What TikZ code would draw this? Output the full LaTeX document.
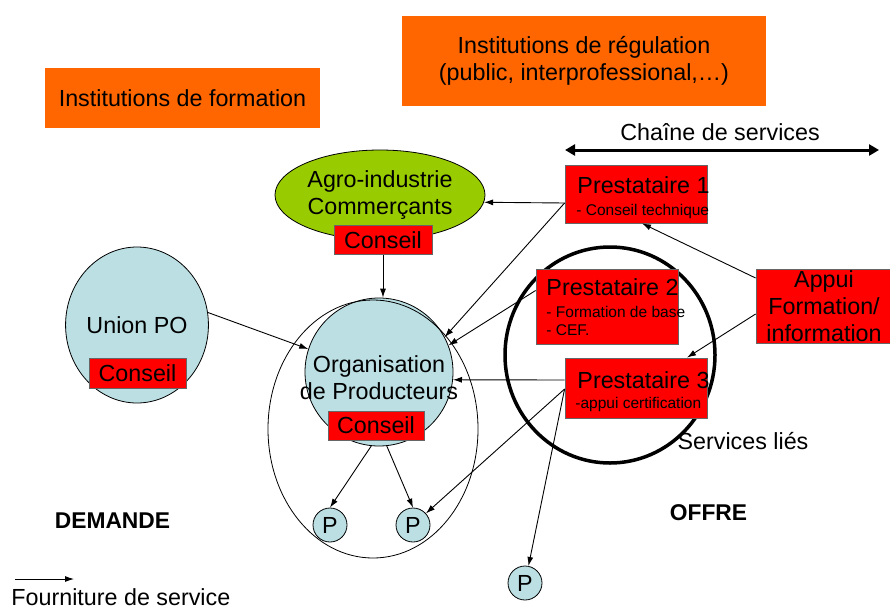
\documentclass[tikz,border=0pt]{standalone}
\usepackage{fontspec}
\setmainfont{Liberation Sans}
\usetikzlibrary{shapes.geometric,arrows.meta}
\definecolor{instorange}{RGB}{255,102,0}
\definecolor{prestred}{RGB}{255,0,0}
\definecolor{agrogreen}{RGB}{153,204,0}
\definecolor{oplight}{RGB}{187,223,227}
\tikzset{font=\fontsize{23.3}{27}\selectfont}
\newcommand{\detailsz}{\fontsize{15.5}{19.5}\selectfont}

\begin{document}
\begin{tikzpicture}[x=1pt,y=-1pt,line width=0.9pt,>={Latex[length=9pt,width=6pt]},
    every node/.style={inner sep=0pt},
    inst/.style={fill=instorange,align=center},
    prest/.style={draw=black!60,line width=0.8pt,fill=prestred},
    blob/.style={draw,line width=0.8pt,fill=oplight}]
      \useasboundingbox (0,0) rectangle (890,610);

      \node[inst,minimum width=275,minimum height=60] (Form) at (182.5,98) {Institutions de formation};
      \node[inst,minimum width=364,minimum height=90] (Reg) at (584,61) {Institutions de régulation\\(public, interprofessional,…)};

      \node (ChT) at (720,132) {Chaîne de services};
      \coordinate (ChL) at (565,150);
      \coordinate (ChR) at (879,150);
      \draw[{Triangle[length=10pt,width=11pt]}-{Triangle[length=10pt,width=11pt]},line width=3pt] (ChL) -- (ChR);

      \node[ellipse,draw,line width=0.8pt,fill=agrogreen,minimum width=210,minimum height=90,align=center] (Agro) at (380,195) {Agro-industrie\\Commerçants};
      \node[prest,minimum width=98,minimum height=29] (AgroC) at (383,240) {Conseil};

      \node[blob,ellipse,minimum width=126,minimum height=156] (Union) at (137,325) {Union PO};
      \node[prest,minimum width=97,minimum height=30] (UnionC) at (137.5,373) {Conseil};

      \node[blob,circle,minimum size=148] (OP) at (379,372) {};
      \node[ellipse,draw,line width=0.8pt,minimum width=210,minimum height=258] (OPout) at (373,429) {};
      \node[align=center] (OPtxt) at (379,378) {Organisation\\de Producteurs};
      \node[prest,minimum width=96,minimum height=29] (OPC) at (376,425.5) {Conseil};

      \node[blob,circle,minimum size=34] (P0) at (330,525) {P};
      \node[blob,circle,minimum size=34] (P1) at (413,525) {P};
      \node[blob,circle,minimum size=34] (P2) at (525,583) {P};

      \node[ellipse,draw,line width=3.5pt,minimum width=210,minimum height=216] (Serv) at (610,355) {};
      \node (ServT) at (743,441) {Services liés};

      \node[prest,minimum width=142,minimum height=58] (Pr1) at (636,194) {};
      \node[anchor=base west] (Pr1a) at (577,193) {Prestataire 1};
      \node[anchor=base west,font=\detailsz] (Pr1b) at (576,215) {- Conseil technique};

      \node[prest,minimum width=142,minimum height=75] (Pr2) at (607,306.5) {};
      \node[anchor=base west] (Pr2a) at (546,295) {Prestataire 2};
      \node[anchor=base west,font=\detailsz] (Pr2b) at (546,317) {- Formation de base};
      \node[anchor=base west,font=\detailsz] (Pr2c) at (546,335) {- CEF.};

      \node[prest,minimum width=142,minimum height=60] (Pr3) at (636,388) {};
      \node[anchor=base west] (Pr3a) at (577,388) {Prestataire 3};
      \node[anchor=base west,font=\detailsz] (Pr3b) at (575,408) {-appui certification};

      \node[prest,align=center,minimum width=136,minimum height=74] (Appui) at (824,306) {Appui\\Formation/\\information};

      \node[font=\fontsize{22.8}{27}\bfseries] (Dem) at (112.5,521) {DEMANDE};
      \node[font=\fontsize{22.8}{27}\bfseries] (Off) at (708.5,513) {OFFRE};

      \coordinate (Leg0) at (15,579);
      \coordinate (Leg1) at (74,579);
      \node[anchor=base west] (LegT) at (11,605) {Fourniture de service};

      \path [->](Leg0) edge (Leg1);

      \path [->]([yshift=-9pt]Pr1.west) edge (Agro.-4);
      \path [->]([yshift=-9pt]Pr1.west) edge (OP.28);
      \path [->]([yshift=16pt]Pr2.west) edge (OP.21);
      \path [->]([yshift=8pt]Pr3.west) edge (OP.-6);
      \path [->]([yshift=-1pt]Pr3.west) edge (P1);
      \path [->]([yshift=-1pt]Pr3.west) edge (P2);

      \path [->](AgroC.south) edge (AgroC.south |- OP.north);
      \path [->](Union.10) edge (OP.162);
      \path [->](OP.264) edge (P0.north);
      \path [->](OP.276) edge (P1.north);

      \path [->]([yshift=28pt]Appui.west) edge ([xshift=6pt]Pr1.south);
      \path [->]([yshift=-8pt]Appui.west) edge ([xshift=51pt]Pr3.north);
  \end{tikzpicture}
\end{document}
